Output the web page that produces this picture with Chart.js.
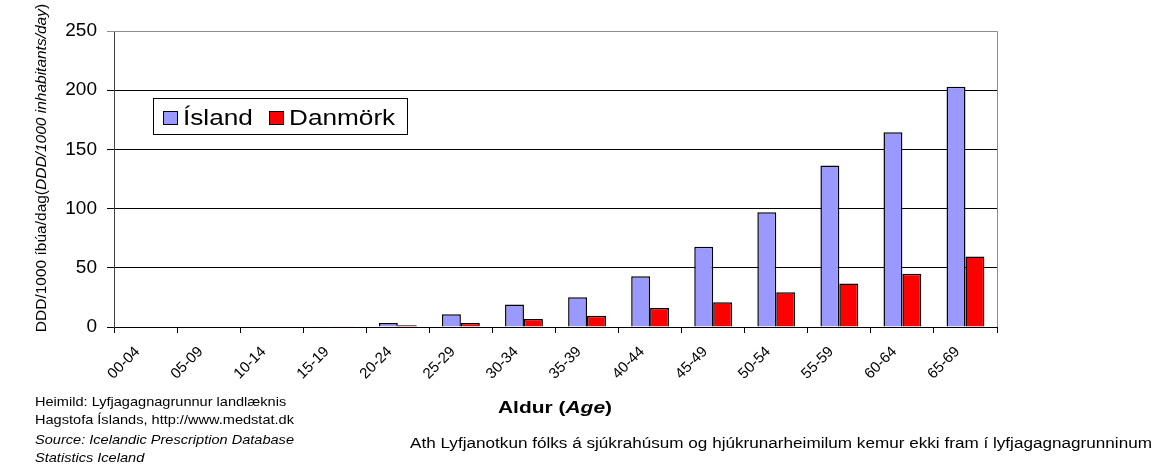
<!DOCTYPE html>
<html>
<head>
<meta charset="utf-8">
<script src="https://cdn.jsdelivr.net/npm/chart.js@4.4.1/dist/chart.umd.min.js"></script>
<style>
  html, body { margin: 0; padding: 0; background: #fff; }
  #wrap { width: 1155px; height: 468px; position: relative; }
</style>
</head>
<body>
<div id="wrap"><canvas id="dddChart" width="1155" height="468"></canvas></div>
<script>
// aldurshópar og gildi (DDD/1000 íbúa/dag)
const ageGroups = ['00-04', '05-09', '10-14', '15-19', '20-24', '25-29', '30-34',
                   '35-39', '40-44', '45-49', '50-54', '55-59', '60-64', '65-69'];
const islandValues = [0, 0.5, 0.5, 0.7, 3.4, 10.7, 18.9, 25.1, 42.9, 67.8, 96.9, 136.5, 164.5, 203];
const danmorkValues = [0, 0, 0, 0.7, 1.4, 3.4, 6.8, 9.6, 16.1, 20.8, 29.3, 36.7, 44.9, 59.6];
const yTicks = [0, 50, 100, 150, 200, 250];

const FONT = '"Liberation Sans", Arial, sans-serif';
const SX = 1.12; // myndin er teygð lárétt

// teiknar texta í nokkrum hlutum (venjulegt / skáletrað)
function drawParts(c, parts, x, y, align, sx, fitW) {
    c.save();
    let w = 0;
    parts.forEach(p => { c.font = p.f; w += c.measureText(p.t).width; });
    if (fitW) sx = fitW / w;
    c.translate(x, y);
    c.scale(sx, 1);
    let cx = align === 'center' ? -w / 2 : 0;
    c.textAlign = 'left';
    c.fillStyle = '#000';
    parts.forEach(p => {
        c.font = p.f;
        c.fillText(p.t, cx, 0);
        cx += c.measureText(p.t).width;
    });
    c.restore();
}

const extraText = {
    id: 'extraText',
    beforeDatasetsDraw(chart) {
        const c = chart.ctx, a = chart.chartArea;
        // grár rammi efst og hægra megin
        c.save();
        c.strokeStyle = '#8c8c8c';
        c.lineWidth = 1;
        c.beginPath();
        c.moveTo(a.left, a.top + 0.5);
        c.lineTo(a.right + 0.5, a.top + 0.5);
        c.lineTo(a.right + 0.5, a.bottom);
        c.stroke();
        c.restore();
    },
    afterDraw(chart) {
        const c = chart.ctx, a = chart.chartArea;
        c.save();
        c.textBaseline = 'alphabetic';

        // y-ás titill
        c.save();
        c.translate(46, (a.top + a.bottom) / 2 - 11);
        c.rotate(-Math.PI / 2);
        drawParts(c, [
            { t: 'DDD/1000 íbúa/dag(', f: '15.5px ' + FONT },
            { t: 'DDD/1000 inhabitants/day', f: 'italic 15.5px ' + FONT },
            { t: ')', f: '15.5px ' + FONT }
        ], 0, 0, 'center', 1);
        c.restore();

        // x-ás titill
        drawParts(c, [
            { t: 'Aldur (', f: 'bold 17px ' + FONT },
            { t: 'Age', f: 'bold italic 17px ' + FONT },
            { t: ')', f: 'bold 17px ' + FONT }
        ], 498, 413, 'left', 1, 114);

        // heimildir
        drawParts(c, [{ t: 'Heimild: Lyfjagagnagrunnur landlæknis', f: '13px ' + FONT }], 35, 406, 'left', SX);
        drawParts(c, [{ t: 'Hagstofa Íslands, http://www.medstat.dk', f: '13px ' + FONT }], 35, 424, 'left', SX);
        drawParts(c, [{ t: 'Source: Icelandic Prescription Database', f: 'italic 13px ' + FONT }], 35, 444, 'left', SX);
        drawParts(c, [{ t: 'Statistics Iceland', f: 'italic 13px ' + FONT }], 35, 462, 'left', SX);
        drawParts(c, [{ t: 'Ath Lyfjanotkun fólks á sjúkrahúsum og hjúkrunarheimilum kemur ekki fram í lyfjagagnagrunninum', f: '14px ' + FONT }], 410, 448, 'left', 1, 742);

        // skýringar (legend) inni í teiknisvæði
        const lx = 153, ly = 98, lw = 254, lh = 36;
        c.fillStyle = '#fff';
        c.fillRect(lx, ly, lw, lh);
        c.strokeStyle = '#000';
        c.lineWidth = 1;
        c.strokeRect(lx + 0.5, ly + 0.5, lw, lh);
        chart.data.datasets.forEach((ds, i) => {
            const bx = i === 0 ? 163 : 269;
            c.fillStyle = ds.backgroundColor;
            c.fillRect(bx, 111, 15, 14);
            c.strokeStyle = '#000';
            c.strokeRect(bx + 0.5, 111.5, 14, 13);
            drawParts(c, [{ t: ds.label, f: '22px ' + FONT }], bx + 20, 125, 'left', 1.19);
        });
        c.restore();
    }
};

const ctx = document.getElementById('dddChart').getContext('2d');
const dddChart = new Chart(ctx, {
    type: 'bar',
    data: {
        labels: ageGroups,
        datasets: [{
            label: 'Ísland',
            data: islandValues,
            backgroundColor: '#9999ff',
            borderColor: '#000',
            borderWidth: 1.5
        }, {
            label: 'Danmörk',
            data: danmorkValues,
            backgroundColor: '#ff0000',
            borderColor: '#000',
            borderWidth: 1.5
        }]
    },
    options: {
        responsive: false,
        animation: false,
        layout: { padding: { top: 31, right: 158, left: 0, bottom: 0 } },
        datasets: { bar: { categoryPercentage: 0.6, barPercentage: 1.0 } },
        plugins: {
            legend: { display: false },
            title: { display: false },
            tooltip: { enabled: false }
        },
        scales: {
            x: {
                grid: {
                    offset: true,
                    drawOnChartArea: false,
                    drawTicks: true,
                    tickLength: 6,
                    color: '#000'
                },
                border: { color: '#000', width: 1 },
                ticks: {
                    autoSkip: false,
                    minRotation: 45,
                    maxRotation: 45,
                    padding: 10,
                    labelOffset: -8,
                    color: '#000',
                    font: { family: FONT, size: 15 }
                },
                afterFit(scale) {
                    scale.height = 141;
                    scale.paddingLeft = 0;
                    scale.paddingRight = 0;
                }
            },
            y: {
                min: 0,
                max: 250,
                afterBuildTicks(scale) {
                    scale.ticks = yTicks.map(v => ({ value: v }));
                },
                grid: {
                    color: c => c.tick && c.tick.value === 250 ? '#8c8c8c' : '#000',
                    tickLength: 7,
                    drawTicks: true
                },
                border: { color: '#404040', width: 1 },
                ticks: {
                    padding: 10,
                    color: '#000',
                    font: { family: FONT, size: 19 }
                },
                afterFit(scale) {
                    scale.width = 114;
                    scale.paddingTop = 0;
                    scale.paddingBottom = 0;
                }
            }
        }
    },
    plugins: [extraText]
});
</script>
</body>
</html>
